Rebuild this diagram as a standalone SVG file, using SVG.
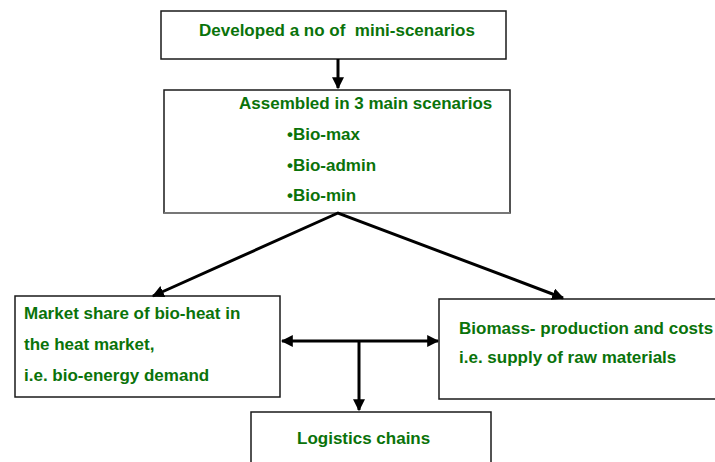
<svg xmlns="http://www.w3.org/2000/svg" width="715" height="462" viewBox="0 0 715 462">
<style>
.box{fill:#fff;stroke:#1a1a1a;stroke-width:1.5}
.t{font-family:"Liberation Sans",Arial,sans-serif;font-weight:bold;font-size:17px;fill:#0a730a;white-space:pre}
.c{stroke:#000;stroke-width:3;fill:none}
</style>
<defs>
<marker id="ah" viewBox="0 0 10 10" refX="9" refY="5" markerWidth="4" markerHeight="4" orient="auto-start-reverse" markerUnits="strokeWidth">
<path d="M0,0 L10,5 L0,10 z" fill="#000"/>
</marker>
</defs>
<rect width="715" height="462" fill="#fff"/>
<g id="n1"><rect class="box" x="161" y="11" width="345" height="48"/>
<text class="t" x="199" y="36" xml:space="preserve">Developed a no of  mini-scenarios</text></g>
<g id="n2"><rect class="box" x="164" y="90" width="346" height="123"/>
<line x1="164" y1="213" x2="510" y2="213" stroke="#777" stroke-width="2"/>
<text class="t" x="239" y="109">Assembled in 3 main scenarios</text>
<text class="t" x="287" y="140">•Bio-max</text>
<text class="t" x="287" y="171">•Bio-admin</text>
<text class="t" x="287" y="201">•Bio-min</text></g>
<g id="n3"><rect class="box" x="15" y="296" width="265" height="101"/>
<text class="t" x="24" y="319">Market share of bio-heat in</text>
<text class="t" x="24" y="350">the heat market,</text>
<text class="t" x="24" y="381">i.e. bio-energy demand</text></g>
<g id="n4"><rect class="box" x="439" y="299" width="280" height="100"/>
<text class="t" x="459" y="334">Biomass- production and costs</text>
<text class="t" x="459" y="363">i.e. supply of raw materials</text></g>
<g id="n5"><rect class="box" x="251" y="412" width="240" height="60"/>
<text class="t" x="297" y="444">Logistics chains</text></g>
<g id="connectors">
<line class="c" x1="338" y1="59" x2="338" y2="88" marker-end="url(#ah)"/>
<polyline class="c" points="153,296 338,213 563,298" marker-start="url(#ah)" marker-end="url(#ah)"/>
<line class="c" x1="282" y1="341" x2="438" y2="341" marker-start="url(#ah)" marker-end="url(#ah)"/>
<line class="c" x1="359" y1="341" x2="359" y2="410" marker-end="url(#ah)"/>
</g>
</svg>
